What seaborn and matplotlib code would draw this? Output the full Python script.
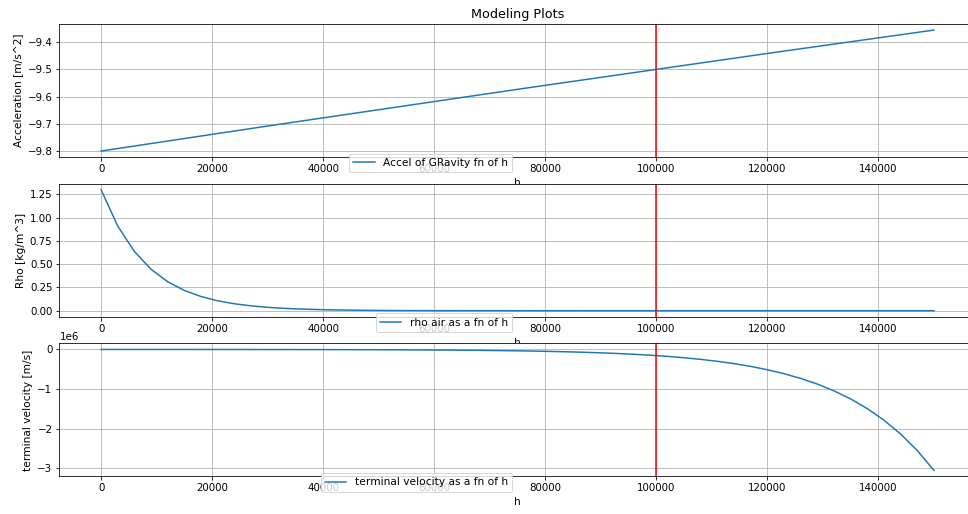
import matplotlib
matplotlib.use("Agg")
import matplotlib.pyplot as plt
import seaborn as sns
import numpy as np

# ---- data ----
h_g = [0, 15000, 30000, 45000, 60000, 75000, 90000, 105000, 120000, 135000, 150000]
accel = [-9.800, -9.754, -9.708, -9.663, -9.618, -9.573, -9.529, -9.485, -9.441, -9.398, -9.355]

h = [i * 3000 for i in range(51)]
rho = [1.300, 0.9096, 0.6365, 0.4453, 0.3116, 0.2180, 0.1526, 0.1067, 0.0747, 0.0523,
       0.0366, 0.0256, 0.0179, 0.0125, 0.0088, 0.0061, 0.0043, 0.0030, 0.0021, 0.0015,
       0.0010, 0.0007, 0.0005, 0.0004, 0.0003, 0.0002, 0.0001, 0.0001, 0.0001, 0.0,
       0.0, 0.0, 0.0, 0.0, 0.0, 0.0, 0.0, 0.0, 0.0, 0.0,
       0.0, 0.0, 0.0, 0.0, 0.0, 0.0, 0.0, 0.0, 0.0, 0.0, 0.0]
vterm = [-400, -500, -600, -700, -800, -1000, -1200, -1400, -1700, -2000,
         -2400, -2900, -3500, -4100, -4900, -5900, -7100, -8400, -10100, -12000,
         -14400, -17200, -20600, -24600, -29400, -35100, -42000, -50200, -60000, -71800,
         -85800, -102600, -122600, -146600, -175000, -210000, -251000, -300000, -358000, -428000,
         -512000, -612000, -731000, -874000, -1045000, -1249000, -1493000, -1785000, -2134000, -2551000,
         -3050000]

titles = ["Modeling Plots"]
ylabels = ["Acceleration [m/s^2]", "Rho [kg/m^3]", "terminal velocity [m/s]"]
labels = ["Accel of GRavity fn of h", "rho air as a fn of h", "terminal velocity as a fn of h"]
h_mark = 100000

plt.rcParams["font.size"] = 10
plt.rcParams["xtick.labelsize"] = 10.2
plt.rcParams["ytick.labelsize"] = 10.2
fig, axes = plt.subplots(3, 1, figsize=(968 / 72, 514 / 72), dpi=72)
fig.subplots_adjust(left=0.0614, right=1.0079, top=0.9533, bottom=0.073, hspace=0.2)

series = [(h_g, accel), (h, rho), (h, vterm)]
for ax, (xs, ys), yl, lab in zip(axes, series, ylabels, labels):
    sns.lineplot(x=xs, y=ys, ax=ax, label=lab, color="#1f77b4", linewidth=1.5)
    ax.axvline(h_mark, color="red", linewidth=1.5)
    ax.grid(True, color="#b0b0b0", linewidth=0.8)
    ax.set_xlabel("h", fontsize=10.6)
    ax.set_ylabel(yl, fontsize=10.6)
    ax.set_xticks([0, 20000, 40000, 60000, 80000, 100000, 120000, 140000])
    ax.legend(loc="lower right", bbox_to_anchor=(0.5, -0.153), fontsize=10.6)

axes[0].set_title(titles[0], fontsize=12.7)

fig.savefig("out.png", dpi=72)
